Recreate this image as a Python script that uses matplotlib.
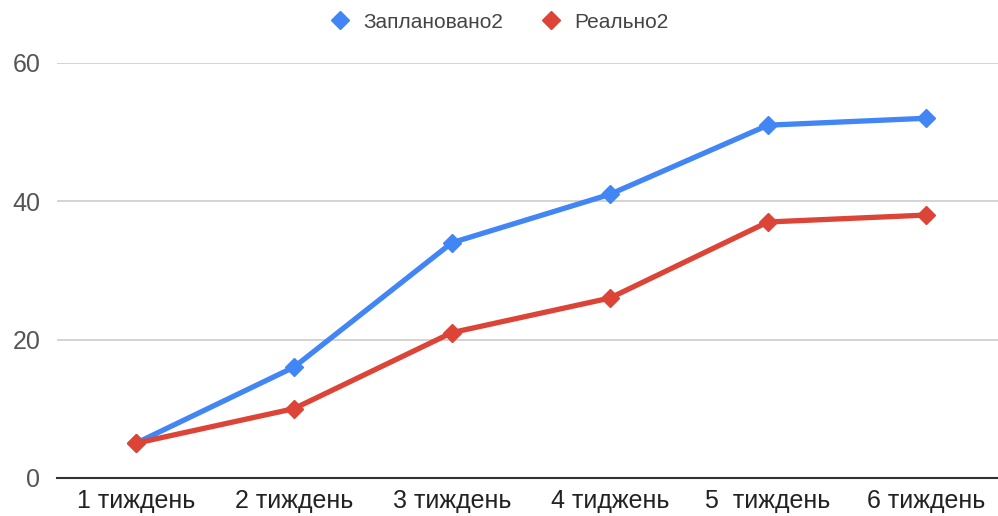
import matplotlib
matplotlib.use("Agg")
import matplotlib.pyplot as plt

weeks = ["1 тиждень", "2 тиждень", "3 тиждень", "4 тиджень", "5  тиждень", "6 тиждень"]
planned = [5, 16, 34, 41, 51, 52]
actual = [5, 10, 21, 26, 37, 38]

BLUE = "#4285F4"
RED = "#DB4437"

plt.rcParams["font.family"] = ["Liberation Sans", "DejaVu Sans"]

fig = plt.figure(figsize=(9.98, 5.16), dpi=100)
ax = fig.add_axes([0.057, 0.074, 0.950, 0.804])

x = list(range(len(weeks)))
ax.plot(x, planned, color=BLUE, lw=3.8, marker="D", ms=9, label="Заплановано2", zorder=3)
ax.plot(x, actual, color=RED, lw=3.8, marker="D", ms=9, label="Реально2", zorder=3)

ax.set_xlim(-0.5, len(weeks) - 0.5)
ax.set_ylim(0, 60)
ax.set_yticks([0, 20, 40, 60])
ax.set_xticks(x)
ax.set_xticklabels(weeks, fontsize=18, color="#222222")
ax.tick_params(axis="y", labelsize=18, labelcolor="#555555", length=0, pad=12)
ax.tick_params(axis="x", length=0, pad=8)
ax.grid(axis="y", color="#cccccc", lw=1.2)
ax.set_axisbelow(True)
for s in ["top", "right", "left"]:
    ax.spines[s].set_visible(False)
ax.spines["bottom"].set_color("#333333")
ax.spines["bottom"].set_linewidth(1.5)

leg = fig.legend(loc="upper center", bbox_to_anchor=(0.5, 1.012), ncol=2, frameon=False,
                 fontsize=15, handlelength=1.0, columnspacing=1.8, handletextpad=0.6)
for t in leg.get_texts():
    t.set_color("#444444")
for h in leg.legend_handles:
    h.set_linestyle("none")

fig.savefig("out.png", dpi=100)
